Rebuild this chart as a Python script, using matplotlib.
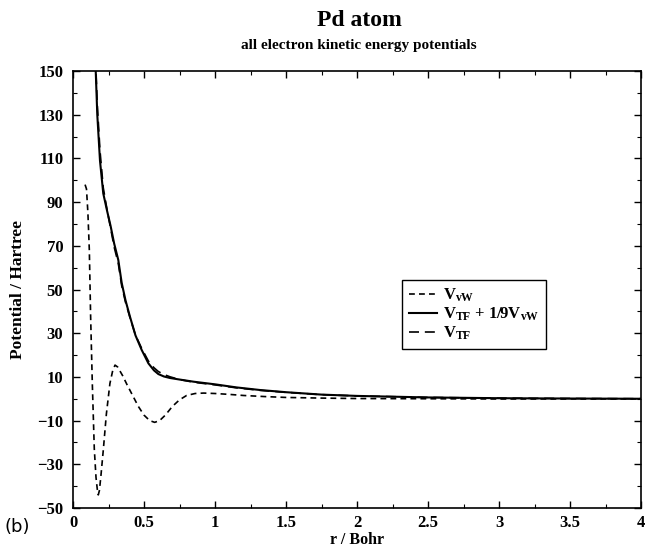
import matplotlib
matplotlib.use("Agg")
import matplotlib.pyplot as plt
from matplotlib.ticker import MultipleLocator

plt.rcParams['font.family'] = ['Liberation Serif', 'DejaVu Serif']
plt.rcParams['mathtext.fontset'] = 'custom'
plt.rcParams['mathtext.rm'] = 'Liberation Serif:bold'
plt.rcParams['mathtext.bf'] = 'Liberation Serif:bold'
plt.rcParams['mathtext.it'] = 'Liberation Serif:bold'

# von Weizsaecker potential
r_vw = [0.085, 0.095, 0.105, 0.115, 0.124, 0.136, 0.150, 0.162, 0.172, 0.178, 0.186,
        0.197, 0.214, 0.235, 0.26, 0.28, 0.296, 0.315, 0.35, 0.38, 0.42, 0.46, 0.50,
        0.54, 0.575, 0.61, 0.65, 0.70, 0.75, 0.80, 0.86, 0.92, 1.0, 1.1, 1.2, 1.35,
        1.5, 1.75, 2.0, 2.5, 3.0, 4.0]
v_vw = [98, 96, 85, 68, 38, 7, -23, -36, -42, -44, -42,
        -35, -23, -7, 7, 13, 15.4, 14.5, 10.5, 6.5, 1.5, -3.5, -7.5,
        -10, -10.8, -10, -7.5, -3.5, -0.5, 1.5, 2.4, 2.6, 2.4, 2.0, 1.5, 1.0,
        0.6, 0.3, 0.1, 0.0, -0.1, -0.1]

# common radial grid for TF-based potentials
r_c = [0.155, 0.160, 0.171, 0.19, 0.213, 0.24, 0.265, 0.29, 0.319, 0.343, 0.37, 0.401,
       0.44, 0.484, 0.531, 0.57, 0.601, 0.64, 0.683, 0.75, 0.85, 1.0, 1.15, 1.317,
       1.5, 1.75, 2.0, 2.5, 3.0, 3.5, 4.0]
# V_TF + 1/9 V_vW
v_comb = [160, 150, 130, 109, 94, 86, 79, 71, 63.5, 53, 45, 37.6,
          29, 22.3, 16.2, 13, 11.3, 10.2, 9.5, 8.8, 7.8, 6.6, 5.2, 4.0,
          3.0, 1.9, 1.3, 0.6, 0.25, 0.1, 0.0]
# V_TF
v_tf = [163, 153.3, 134.6, 113.6, 96.6, 86.4, 78, 69.4, 61.9, 51.7, 44.1, 37.2,
        29.1, 23.0, 17.25, 14.2, 12.45, 11.1, 10.05, 8.8, 7.55, 6.35, 5.0, 3.85,
        2.93, 1.87, 1.29, 0.6, 0.26, 0.11, 0.01]

x_ticks = [0, 0.5, 1, 1.5, 2, 2.5, 3, 3.5, 4]
x_labels = ['0', '0.5', '1', '1.5', '2', '2.5', '3', '3.5', '4']
y_ticks = [-50, -30, -10, 10, 30, 50, 70, 90, 110, 130, 150]
y_labels = ['\u221250', '\u221230', '\u221210', '10', '30', '50', '70', '90', '110', '130', '150']

fig = plt.figure(figsize=(6.45, 5.48), dpi=100)
ax = fig.add_axes([73/645, 1-508/548, (641-73)/645, (508-71)/548])

ax.plot(r_vw, v_vw, color='black', lw=1.2, ls=(0, (3.5, 2.5)),
        label=r'$\mathbf{V}_{\mathbf{vW}}$')
ax.plot(r_c, v_comb, color='black', lw=1.5, ls='-',
        label=r'$\mathbf{V}_{\mathbf{TF}}$ + 1/9$\mathbf{V}_{\mathbf{vW}}$')
ax.plot(r_c, v_tf, color='black', lw=1.2, ls=(0, (6, 3.5)),
        label=r'$\mathbf{V}_{\mathbf{TF}}$')

ax.set_xlim(0, 4)
ax.set_ylim(-50, 150)
ax.set_xticks(x_ticks)
ax.set_xticklabels(x_labels)
ax.set_yticks(y_ticks)
ax.set_yticklabels(y_labels)
ax.xaxis.set_minor_locator(MultipleLocator(0.25))
ax.yaxis.set_minor_locator(MultipleLocator(10))
ax.tick_params(which='both', direction='in', top=True, right=True)
ax.tick_params(which='major', length=5, width=1)
ax.tick_params(axis='y', which='major', pad=7)
ax.tick_params(axis='x', which='major', pad=5)
ax.tick_params(which='minor', length=3, width=0.8)
for lab in ax.get_xticklabels() + ax.get_yticklabels():
    lab.set_fontweight('bold')
    lab.set_fontsize(12)
for sp in ax.spines.values():
    sp.set_linewidth(1.2)

ax.set_xlabel('r / Bohr', fontsize=11.5, fontweight='bold', labelpad=1)
ax.set_ylabel('Potential / Hartree', fontsize=12.5, fontweight='bold', labelpad=8)

fig.text(359/645, 1-20/548, 'Pd atom', ha='center', va='center',
         fontsize=17, fontweight='bold')
fig.text(359/645, 1-46/548, 'all electron kinetic energy potentials', ha='center',
         va='center', fontsize=11, fontweight='bold')
fig.text(5/645, 1-527/548, '(b)', ha='left', va='center', fontsize=13,
         family=['DejaVu Sans'])

leg = ax.legend(loc='upper left', bbox_to_anchor=((402-73)/568, (508-280)/437),
                frameon=True, fancybox=False, framealpha=1, edgecolor='black',
                prop={'weight': 'bold', 'size': 12}, handlelength=1.7,
                borderpad=0.4, labelspacing=0.1, handletextpad=0.35,
                borderaxespad=0)
leg.get_frame().set_linewidth(1.0)

fig.savefig('out.png', dpi=100)
